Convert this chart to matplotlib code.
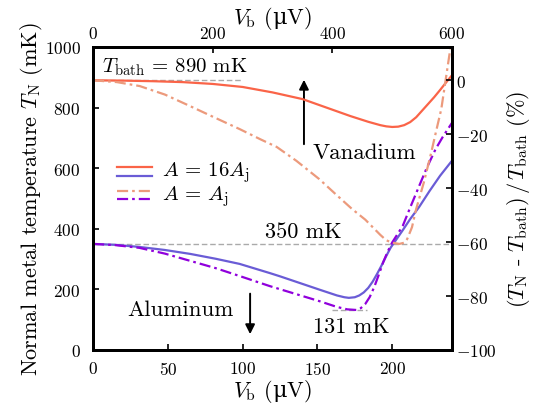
import matplotlib
matplotlib.use("Agg")
import matplotlib.pyplot as plt

plt.rcParams['font.family'] = ['cmr10', 'DejaVu Serif']
plt.rcParams['mathtext.fontset'] = 'custom'
plt.rcParams['mathtext.rm'] = 'cmr10'
plt.rcParams['mathtext.it'] = 'cmmi10'
plt.rcParams['mathtext.bf'] = 'cmb10'
plt.rcParams['mathtext.sf'] = 'DejaVu Serif'
plt.rcParams['mathtext.fallback'] = 'cm'
plt.rcParams['axes.formatter.use_mathtext'] = True

# vanadium, top axis (uV), temperature in mK
v_vb = [0, 50, 100, 150, 200, 250, 300, 350, 400, 430, 460, 480, 490, 500, 510, 520,
        530, 540, 550, 560, 570, 580, 590, 600]
v_big = [890, 889, 887, 884, 878, 868, 850, 828, 793, 772, 753, 742, 738, 736, 737, 742,
         752, 768, 790, 812, 834, 858, 883, 907]
v_vb2 = [0, 40, 78, 120, 162, 200, 245, 280, 307, 340, 378, 405, 433, 455, 467, 480,
         490, 500, 512, 520, 525, 533, 540, 553, 565, 573, 582, 592, 597, 600]
v_small = [890, 884, 871, 843, 805, 770, 729, 695, 670, 624, 564, 515, 465, 430, 406,
           380, 362, 354, 350, 354, 366, 405, 465, 554, 650, 719, 795, 927, 993, 1030]

# aluminum, bottom axis (uV)
al_vb = [0, 15, 31, 48, 65, 82, 98, 110, 118, 125, 140, 152, 163, 168, 171, 175, 178,
         181, 184, 187, 190, 193, 196, 199, 201, 207, 212, 218, 225, 232, 240]
al_big = [350, 347, 340, 330, 317, 301, 284, 266, 254, 243, 218, 198, 180, 174, 172,
          174, 180, 190, 205, 226, 252, 280, 310, 338, 352, 395, 432, 472, 525, 575, 625]
al_vb2 = [0, 15, 31, 48, 65, 82, 98, 118, 140, 152, 163, 170, 176, 179, 182, 185, 188,
          191, 194, 197, 200, 207, 212, 218, 223, 229, 234, 240]
al_small = [350, 346, 337, 318, 294, 270, 244, 211, 178, 160, 142, 134, 132, 138, 152,
            175, 208, 248, 290, 325, 355, 409, 470, 541, 600, 663, 705, 750]

t_bath_v = 890
t_bath_al = 350
t_min_al = 131

c_v1, c_v2 = '#fa6448', '#ec9a7c'
c_a1, c_a2 = '#6a5cd6', '#9000dc'
dashdot = (0, (5, 1.8, 1.2, 1.8))

fig = plt.figure(figsize=(5.44, 4.10), dpi=100)
ax = fig.add_axes([0.171, 0.144, 0.660, 0.739])
ax2 = ax.twiny()
ax3 = ax.twinx()

ax.plot([0, 240], [t_bath_al, t_bath_al], color='#aaaaaa', lw=1, ls=(0, (4, 2)))
ax.plot([160, 183], [t_min_al, t_min_al], color='#aaaaaa', lw=1, ls=(0, (4, 2)))
ax2.plot([0, 250], [t_bath_v, t_bath_v], color='#aaaaaa', lw=1, ls=(0, (4, 2)))

ax2.plot(v_vb, v_big, color=c_v1, lw=1.6)
ax2.plot(v_vb2, v_small, color=c_v2, lw=1.6, ls=dashdot)
ax.plot(al_vb, al_big, color=c_a1, lw=1.6)
ax.plot(al_vb2, al_small, color=c_a2, lw=1.6, ls=dashdot)

ax.set_xlim(0, 240)
ax.set_ylim(0, 1000)
ax2.set_xlim(0, 600)
ax3.set_ylim(-100, (1000 - t_bath_v) / t_bath_v * 100)
ax2.set_ylim(0, 1000)

ax.set_xticks([0, 50, 100, 150, 200])
ax.set_yticks([0, 200, 400, 600, 800, 1000])
ax2.set_xticks([0, 200, 400, 600])
ax3.set_yticks([0, -20, -40, -60, -80, -100])

for a in (ax, ax2, ax3):
    a.tick_params(direction='in', length=4, width=1.2, labelsize=12.5)
    for s in a.spines.values():
        s.set_linewidth(2)
ax.tick_params(axis='x', pad=7)
ax.tick_params(axis='y', pad=9)
ax2.tick_params(axis='x', pad=4)
ax3.tick_params(axis='y', pad=3)

ax.set_xlabel(r'$V_\mathrm{b}$ ($\mathsf{\mu}$V)', fontsize=16, labelpad=0)
ax2.set_xlabel(r'$V_\mathrm{b}$ ($\mathsf{\mu}$V)', fontsize=16, labelpad=2)
ax.set_ylabel(r'Normal metal temperature $T_\mathrm{N}$ (mK)', fontsize=16, labelpad=0)
ax3.set_ylabel(r'$(T_\mathrm{N}$ - $T_\mathrm{bath})\,/\,T_\mathrm{bath}$ (%)', fontsize=16, labelpad=6)

# legend drawn by hand: two stacked lines per entry
lx = [0.067, 0.164]
ax.plot(lx, [0.604, 0.604], color=c_v1, lw=1.6, transform=ax.transAxes)
ax.plot(lx, [0.574, 0.574], color=c_a1, lw=1.6, transform=ax.transAxes)
ax.plot(lx, [0.525, 0.525], color=c_v2, lw=1.6, ls=dashdot, transform=ax.transAxes)
ax.plot(lx, [0.497, 0.497], color=c_a2, lw=1.6, ls=dashdot, transform=ax.transAxes)
ax.text(0.192, 0.589, r'$A$ = 16$A_\mathrm{j}$', fontsize=15, va='center', transform=ax.transAxes)
ax.text(0.192, 0.508, r'$A$ = $A_\mathrm{j}$', fontsize=15, va='center', transform=ax.transAxes)

ax.text(6, 937, r'$T_\mathrm{bath}$ = 890 mK', fontsize=15, va='center')
ax.text(147, 653, 'Vanadium', fontsize=16.5, va='center')
ax.text(23, 135, 'Aluminum', fontsize=16.5, va='center')
ax.text(115, 393, '350 mK', fontsize=16, va='center')
ax.text(147, 79, '131 mK', fontsize=16, va='center')

ax.annotate('', xy=(141, 901), xytext=(141, 670),
            arrowprops=dict(arrowstyle='-|>', color='black', lw=1.4, mutation_scale=14))
ax.annotate('', xy=(105, 43), xytext=(105, 195),
            arrowprops=dict(arrowstyle='-|>', color='black', lw=1.4, mutation_scale=14))

fig.savefig('out.png', dpi=100)
